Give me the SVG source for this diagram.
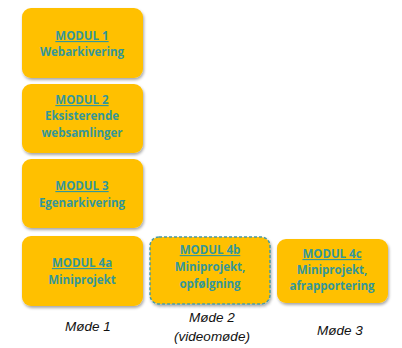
<svg xmlns="http://www.w3.org/2000/svg" width="402" height="348" viewBox="0 0 402 348">
<defs>
<filter id="sh" x="-10%" y="-10%" width="130%" height="130%">
<feGaussianBlur in="SourceAlpha" stdDeviation="1.5"/>
<feOffset dx="1" dy="2" result="b"/>
<feComponentTransfer><feFuncA type="linear" slope="0.35"/></feComponentTransfer>
<feMerge><feMergeNode/><feMergeNode in="SourceGraphic"/></feMerge>
</filter>
</defs>
<style>
.box{fill:#FFC000;filter:url(#sh)}
.dash{stroke:#4a9aa0;stroke-width:1.5;stroke-dasharray:3 2}
.t{font-family:"Open Sans","Liberation Sans",sans-serif;font-weight:bold;font-size:11.5px;fill:#34979a;text-anchor:middle}
.u{text-decoration:underline}
.m{font-family:"Liberation Sans",Arial,sans-serif;font-style:italic;font-size:13.5px;fill:#111;text-anchor:middle}
</style>
<rect width="402" height="348" fill="#fff"/>
<g id="connectors"/>
<g id="modul1">
<rect class="box" x="22" y="8" width="121" height="70" rx="9"/>
<text class="t u" x="82" y="40">MODUL 1</text>
<text class="t" x="82" y="56">Webarkivering</text>
</g>
<g id="modul2">
<rect class="box" x="22" y="84" width="121" height="69" rx="9"/>
<text class="t u" x="82" y="104">MODUL 2</text>
<text class="t" x="82" y="120">Eksisterende</text>
<text class="t" x="82" y="137">websamlinger</text>
</g>
<g id="modul3">
<rect class="box" x="22" y="159" width="121" height="69" rx="9"/>
<text class="t u" x="82" y="190">MODUL 3</text>
<text class="t" x="82" y="207">Egenarkivering</text>
</g>
<g id="modul4a">
<rect class="box" x="22" y="236" width="121" height="70" rx="9"/>
<text class="t u" x="82" y="267">MODUL 4a</text>
<text class="t" x="82" y="284">Miniprojekt</text>
</g>
<g id="modul4b">
<rect class="box dash" x="150" y="237" width="120" height="67" rx="9"/>
<text class="t u" x="210" y="254">MODUL 4b</text>
<text class="t" x="210" y="271">Miniprojekt,</text>
<text class="t" x="210" y="288">opfølgning</text>
</g>
<g id="modul4c">
<rect class="box" x="277" y="239" width="111" height="64" rx="9"/>
<text class="t u" x="332" y="258">MODUL 4c</text>
<text class="t" x="332" y="274">Miniprojekt,</text>
<text class="t" x="332" y="290">afrapportering</text>
</g>
<g id="labels">
<text class="m" x="88" y="331">Møde 1</text>
<text class="m" x="212" y="322">Møde 2</text>
<text class="m" x="212" y="341">(videomøde)</text>
<text class="m" x="340" y="335">Møde 3</text>
</g>
</svg>
